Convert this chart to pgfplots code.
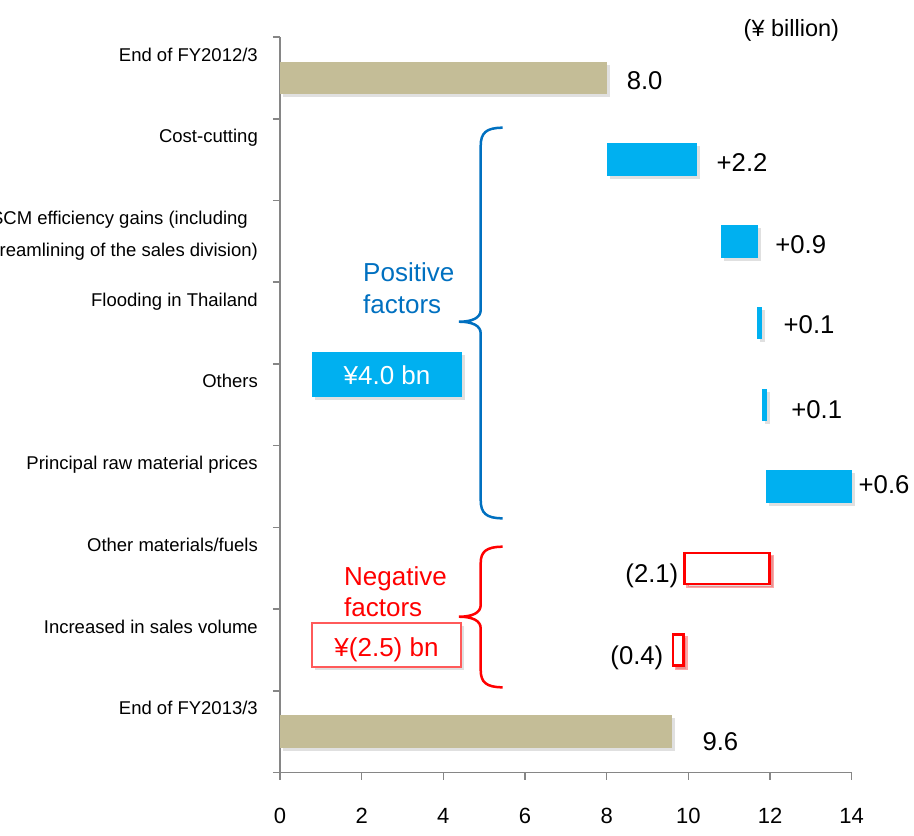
\documentclass[border=0pt]{standalone}
\usepackage{fontspec}
\setmainfont{Liberation Sans}
\usepackage{pgfplots}
\pgfplotsset{compat=1.18}
\usetikzlibrary{shadows}
\definecolor{tanbar}{HTML}{C4BD97}
\definecolor{cyanbar}{HTML}{00B0F0}
\definecolor{bluetxt}{HTML}{0070C0}
\definecolor{axisgray}{HTML}{868686}
\definecolor{redline}{HTML}{FF0000}
\definecolor{pinkline}{HTML}{FF5A5A}
\newcommand\valfont{\fontsize{25.7}{30}\selectfont}
\newcommand\catfont{\fontsize{18.5}{32}\selectfont}
\newcommand\bigfont{\fontsize{26}{32}\selectfont}
\tikzset{shd/.style={drop shadow={shadow xshift=3pt, shadow yshift=-3pt, opacity=0.35, fill=black!35}}}
\begin{document}
\begin{tikzpicture}
\begin{axis}[
  at={(280pt,-772.7pt)}, anchor=south west,
  scale only axis, width=571.7pt, height=735.7pt,
  xmin=0, xmax=14, ymin=-0.5, ymax=8.5, y dir=reverse,
  axis lines*=left, axis line style={axisgray, line width=1.5pt, -},
  xtick={0,2,4,6,8,10,12,14},
  ytick={-0.5,0.5,1.5,2.5,3.5,4.5,5.5,6.5,7.5,8.5},
  yticklabels={End of FY2012/3, Cost-cutting, {\begin{tabular}[t]{@{}r@{}}SCM efficiency gains (including\hspace*{10pt}\\streamlining of the sales division)\end{tabular}}, Flooding in Thailand, Others, Principal raw material prices, Other materials/fuels, Increased in sales volume, End of FY2013/3, {}},
  tick align=outside, major tick length=7pt,
  tick style={axisgray, line width=1.5pt},
  xticklabel style={font=\fontsize{22}{26}\selectfont, anchor=base, yshift=-43.6pt, inner sep=0pt},
  yticklabel style={font=\catfont, anchor=base east, yshift=-24pt, xshift=-15pt, inner sep=0pt},
  /pgf/number format/assume math mode=true,
  clip=false,
]
% opening and closing balances
\addplot[fill=tanbar, draw=none, shd] coordinates {(0,-0.2) (8.0,-0.2) (8.0,0.2) (0,0.2)} -- cycle;
\addplot[fill=tanbar, draw=none, shd] coordinates {(0,7.8) (9.6,7.8) (9.6,8.2) (0,8.2)} -- cycle;
% positive factors
\addplot[fill=cyanbar, draw=none, shd] coordinates {(8.0,0.8) (10.21,0.8) (10.21,1.2) (8.0,1.2)} -- cycle;
\addplot[fill=cyanbar, draw=none, shd] coordinates {(10.80,1.8) (11.70,1.8) (11.70,2.2) (10.80,2.2)} -- cycle;
\addplot[fill=cyanbar, draw=none, shd] coordinates {(11.68,2.8) (11.80,2.8) (11.80,3.2) (11.68,3.2)} -- cycle;
\addplot[fill=cyanbar, draw=none, shd] coordinates {(11.80,3.8) (11.92,3.8) (11.92,4.2) (11.80,4.2)} -- cycle;
\addplot[fill=cyanbar, draw=none, shd] coordinates {(11.90,4.8) (14.0,4.8) (14.0,5.2) (11.90,5.2)} -- cycle;
% negative factors
\addplot[fill=white, draw=redline, line width=2.5pt, shd] coordinates {(9.91,5.81) (11.99,5.81) (11.99,6.19) (9.91,6.19)} -- cycle;
\addplot[fill=white, draw=redline, line width=2.5pt, shd] coordinates {(9.62,6.81) (9.88,6.81) (9.88,7.19) (9.62,7.19)} -- cycle;
\end{axis}
\begin{scope}[x=1pt,y=-1pt]
  \node[anchor=base west, inner sep=0, font=\fontsize{23.5}{28}\selectfont] at (743.5,36) {(¥ billion)};
  \node[anchor=base west, inner sep=0, font=\valfont] at (626.6,89.5) {8.0};
  \node[anchor=base west, inner sep=0, font=\valfont] at (716.5,171.7) {+2.2};
  \node[anchor=base west, inner sep=0, font=\valfont] at (775.2,253.3) {+0.9};
  \node[anchor=base west, inner sep=0, font=\valfont] at (783.5,333.3) {+0.1};
  \node[anchor=base west, inner sep=0, font=\valfont] at (791.2,418.3) {+0.1};
  \node[anchor=base west, inner sep=0, font=\valfont] at (858.5,493.3) {+0.6};
  \node[anchor=base east, inner sep=0, font=\valfont] at (678.5,582.6) {(2.1)};
  \node[anchor=base east, inner sep=0, font=\valfont] at (663.5,664.6) {(0.4)};
  \node[anchor=base west, inner sep=0, font=\valfont] at (702.3,750) {9.6};
  % positive factors annotation
  \node[anchor=base west, inner sep=0, font=\bigfont, text=bluetxt] at (363,281) {Positive};
  \node[anchor=base west, inner sep=0, font=\bigfont, text=bluetxt] at (363,313.3) {factors};
  \fill[cyanbar, shd] (312,352) rectangle (462,397);
  \node[anchor=base, inner sep=0, font=\bigfont, text=white] at (387,384.3) {¥4.0 bn};
  \draw[bluetxt, line width=2.5pt] (502.7,127.7) .. controls (486,127.7) and (480.7,133) .. (480.7,146)
     -- (480.7,310) .. controls (480.7,318) and (472,321.7) .. (459,321.7)
     .. controls (472,321.7) and (480.7,325.4) .. (480.7,333.4)
     -- (480.7,500) .. controls (480.7,513) and (486,518.3) .. (502.7,518.3);
  % negative factors annotation
  \node[anchor=base west, inner sep=0, font=\bigfont, text=redline] at (344,585) {Negative};
  \node[anchor=base west, inner sep=0, font=\bigfont, text=redline] at (344,616.7) {factors};
  \draw[pinkline, line width=2pt, fill=white, shd] (312,623) rectangle (461,667);
  \node[anchor=base, inner sep=0, font=\bigfont, text=redline] at (386.5,656.7) {¥(2.5) bn};
  \draw[redline, line width=2.5pt] (502.7,546.7) .. controls (486,546.7) and (480.7,552) .. (480.7,563)
     -- (480.7,605) .. controls (480.7,613) and (472,616.7) .. (459,616.7)
     .. controls (472,616.7) and (480.7,620.4) .. (480.7,628.4)
     -- (480.7,670) .. controls (480.7,682) and (486,687.3) .. (502.7,687.3);
  \pgfresetboundingbox
  \path (0,0) rectangle (914,836);
\end{scope}
\end{tikzpicture}
\end{document}
